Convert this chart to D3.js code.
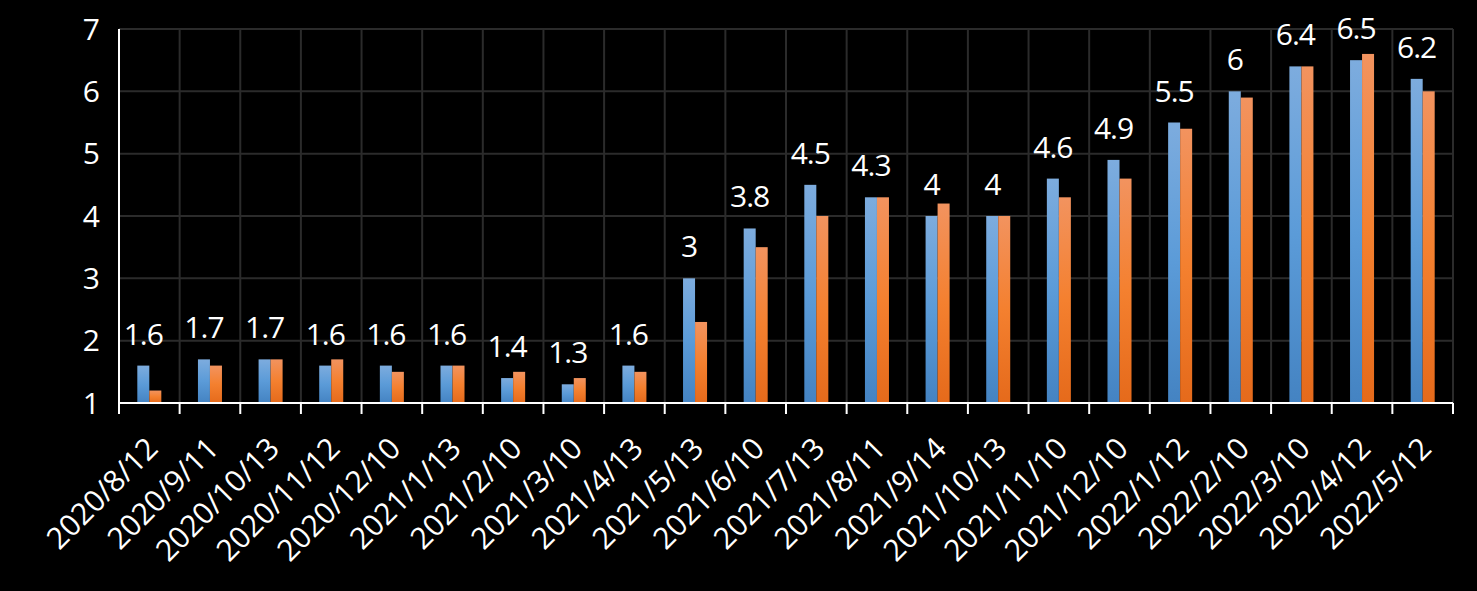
<!DOCTYPE html>
<html><head><meta charset="utf-8">
<script src="https://cdn.jsdelivr.net/npm/d3@7"></script>
<style>html,body{margin:0;padding:0;background:#000;}svg{display:block;}</style>
</head><body>
<script>
const categories = ["2020/8/12","2020/9/11","2020/10/13","2020/11/12","2020/12/10","2021/1/13","2021/2/10","2021/3/10","2021/4/13","2021/5/13","2021/6/10","2021/7/13","2021/8/11","2021/9/14","2021/10/13","2021/11/10","2021/12/10","2022/1/12","2022/2/10","2022/3/10","2022/4/12","2022/5/12"];
const seriesA = [1.6,1.7,1.7,1.6,1.6,1.6,1.4,1.3,1.6,3,3.8,4.5,4.3,4,4,4.6,4.9,5.5,6,6.4,6.5,6.2];
const seriesB = [1.2,1.6,1.7,1.7,1.5,1.6,1.5,1.4,1.5,2.3,3.5,4.0,4.3,4.2,4.0,4.3,4.6,5.4,5.9,6.4,6.6,6.0];
const yTicks = [1,2,3,4,5,6,7];
const seriesNames = ["A","B"];

const W = 1477, H = 591;
const m = {left:119, right:1453, top:29, bottom:403};
const font = "'Open Sans', 'Noto Sans', sans-serif";

const svg = d3.select("body").append("svg").attr("width", W).attr("height", H).style("background","#000");
const defs = svg.append("defs");
const gA = defs.append("linearGradient").attr("id","gA").attr("x1",0).attr("y1",0).attr("x2",0).attr("y2",1);
gA.append("stop").attr("offset","0%").attr("stop-color","#7dacde");
gA.append("stop").attr("offset","50%").attr("stop-color","#5b9bd8");
gA.append("stop").attr("offset","100%").attr("stop-color","#4483c2");
const gB = defs.append("linearGradient").attr("id","gB").attr("x1",0).attr("y1",0).attr("x2",0).attr("y2",1);
gB.append("stop").attr("offset","0%").attr("stop-color","#f2935f");
gB.append("stop").attr("offset","50%").attr("stop-color","#f4802f");
gB.append("stop").attr("offset","100%").attr("stop-color","#e56a1b");

const x = d3.scaleBand().domain(categories).range([m.left, m.right]).paddingInner(0).paddingOuter(0);
const x1 = d3.scaleBand().domain(seriesNames).range([0, x.bandwidth()]).paddingInner(0).paddingOuter(1.525);
const y = d3.scaleLinear().domain([1,7]).range([m.bottom, m.top]);

// horizontal gridlines
svg.append("g").selectAll("line").data(yTicks.filter(t=>t>1)).join("line")
  .attr("x1", m.left).attr("x2", m.right).attr("y1", d=>y(d)).attr("y2", d=>y(d))
  .attr("stroke","#2b2b2b").attr("stroke-width",2);
// vertical gridlines at band boundaries
const bounds = categories.map(c=>x(c)).concat([m.right]).slice(1);
svg.append("g").selectAll("line").data(bounds).join("line")
  .attr("x1", d=>d).attr("x2", d=>d).attr("y1", m.top).attr("y2", m.bottom)
  .attr("stroke","#2b2b2b").attr("stroke-width",2);

// bars
const g = svg.append("g");
categories.forEach((c,i)=>{
  const vals = [seriesA[i], seriesB[i]];
  vals.forEach((v,j)=>{
    g.append("rect").attr("x", x(c)+x1(seriesNames[j])).attr("width", x1.bandwidth())
      .attr("y", y(v)).attr("height", y(1)-y(v))
      .attr("fill", j===0 ? "url(#gA)" : "url(#gB)");
  });
});

// data labels (series A), centred over the blue bar
svg.append("g").selectAll("text").data(categories).join("text")
  .attr("x", c=>x(c)+x1("A")+x1.bandwidth()/2).attr("y", (c,i)=>y(seriesA[i]) - 21)
  .attr("text-anchor","middle").attr("fill","#fff")
  .style("font-family", font).style("font-size","30px").style("letter-spacing","-1px")
  .text((c,i)=>seriesA[i]);

// x axis
const xAxis = svg.append("g").attr("transform",`translate(0,${m.bottom})`);
xAxis.append("line").attr("x1", m.left-1).attr("x2", m.right).attr("y1",0).attr("y2",0).attr("stroke","#fff").attr("stroke-width",2);
xAxis.selectAll("line.tk").data([m.left].concat(bounds)).join("line").attr("class","tk")
  .attr("x1", d=>d).attr("x2", d=>d).attr("y1",0).attr("y2",11).attr("stroke","#fff").attr("stroke-width",2);
xAxis.selectAll("text").data(categories).join("text")
  .attr("transform", c=>`translate(${x(c)+x.bandwidth()/2+3},${40}) rotate(-45)`)
  .attr("text-anchor","end").attr("dy","0.35em").attr("fill","#fff")
  .style("font-family", font).style("font-size","30px")
  .text(c=>c);

// y axis
svg.append("line").attr("x1", m.left).attr("x2", m.left).attr("y1", m.top).attr("y2", m.bottom+11).attr("stroke","#fff").attr("stroke-width",2);
svg.append("g").selectAll("text").data(yTicks).join("text")
  .attr("x", 100).attr("y", d=>y(d)).attr("dy","0.36em")
  .attr("text-anchor","end").attr("fill","#fff")
  .style("font-family", font).style("font-size","30px")
  .text(d=>d);
</script>
</body></html>
